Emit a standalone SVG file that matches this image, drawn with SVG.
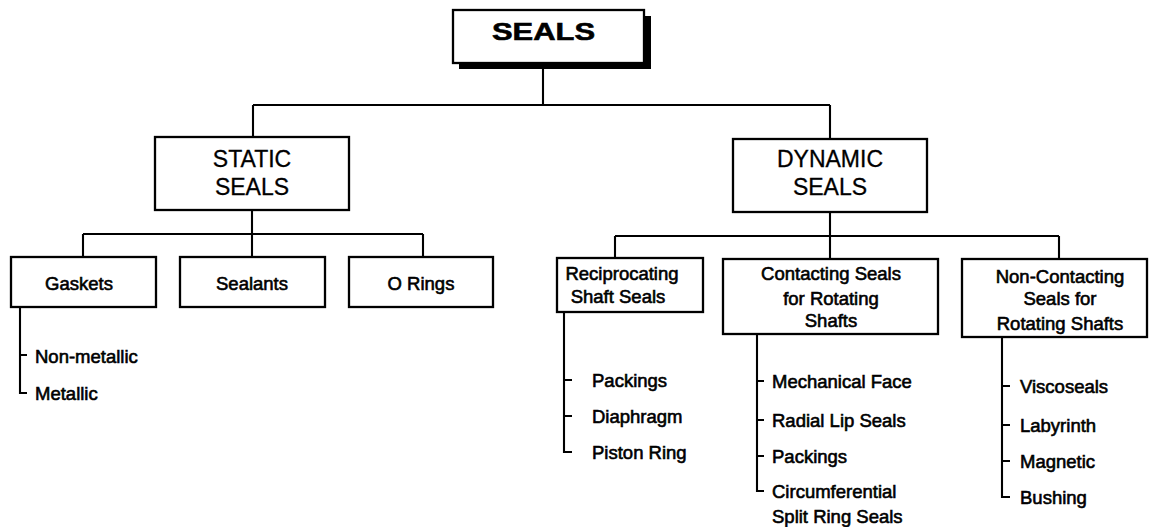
<svg xmlns="http://www.w3.org/2000/svg" width="1151" height="527" viewBox="0 0 1151 527">
<style>
.box{fill:#fff;stroke:#000;stroke-width:2.3}
.ln{fill:none;stroke:#000;stroke-width:2.1}
text{font-family:"Liberation Sans",Arial,Helvetica,sans-serif;fill:#000}
.big{font-size:23px;stroke:#000;stroke-width:0.3}
.lbl{font-size:18.5px;stroke:#000;stroke-width:0.6}
.it{font-size:18.5px;stroke:#000;stroke-width:0.6}
.mid{text-anchor:middle}
</style>
<rect width="1151" height="527" fill="#fff"/>
<g id="connectors">
<path class="ln" d="M543 68V105M253 105H830M253 105V137M830 105V139"/>
<path class="ln" d="M252 210V234M83 234H423M83 234V257M252 234V257M423 234V257"/>
<path class="ln" d="M830 212V236M615 236H1059M615 236V258M830 236V259M1059 236V259"/>
<path class="ln" d="M20 307V393H27M20 355H27"/>
<path class="ln" d="M564 312V452H572M564 380H572M564 416H572"/>
<path class="ln" d="M757 334V491H764M757 381H764M757 420H764M757 456H764"/>
<path class="ln" d="M1002 337V497H1010M1002 386H1010M1002 425H1010M1002 461H1010"/>
</g>
<g id="seals">
<rect x="459" y="16" width="192" height="53" fill="#000"/>
<rect class="box" x="453" y="10" width="191" height="53"/>
<text x="543.5" y="40" font-size="24" font-weight="bold" stroke="#000" stroke-width="0.6" class="mid" textLength="103" lengthAdjust="spacingAndGlyphs">SEALS</text>
</g>
<g id="static">
<rect class="box" x="155" y="137" width="194" height="73"/>
<text class="big mid" x="252" y="167">STATIC</text>
<text class="big mid" x="252" y="195">SEALS</text>
</g>
<g id="dynamic">
<rect class="box" x="733" y="139" width="194" height="73"/>
<text class="big mid" x="830" y="167">DYNAMIC</text>
<text class="big mid" x="830" y="195">SEALS</text>
</g>
<g id="gaskets">
<rect class="box" x="11" y="257" width="145" height="50"/>
<text class="lbl mid" x="79" y="290">Gaskets</text>
</g>
<g id="sealants">
<rect class="box" x="180" y="257" width="145" height="50"/>
<text class="lbl mid" x="252" y="290">Sealants</text>
</g>
<g id="orings">
<rect class="box" x="349" y="257" width="144" height="50"/>
<text class="lbl mid" x="421" y="290">O Rings</text>
</g>
<g id="gasket-items">
<text class="it" x="35" y="363">Non-metallic</text>
<text class="it" x="35" y="400">Metallic</text>
</g>
<g id="reciprocating">
<rect class="box" x="557" y="258" width="146" height="54"/>
<text class="lbl mid" x="622" y="280">Reciprocating</text>
<text class="lbl mid" x="618" y="303">Shaft Seals</text>
</g>
<g id="reciprocating-items">
<text class="it" x="592" y="387">Packings</text>
<text class="it" x="592" y="423">Diaphragm</text>
<text class="it" x="592" y="459">Piston Ring</text>
</g>
<g id="contacting">
<rect class="box" x="723" y="259" width="215" height="75"/>
<text class="lbl mid" x="831" y="280">Contacting Seals</text>
<text class="lbl mid" x="831" y="305">for Rotating</text>
<text class="lbl mid" x="831" y="327">Shafts</text>
</g>
<g id="contacting-items">
<text class="it" x="772" y="388">Mechanical Face</text>
<text class="it" x="772" y="427">Radial Lip Seals</text>
<text class="it" x="772" y="463">Packings</text>
<text class="it" x="772" y="498">Circumferential</text>
<text class="it" x="772" y="523">Split Ring Seals</text>
</g>
<g id="noncontacting">
<rect class="box" x="962" y="259" width="185" height="78"/>
<text class="lbl mid" x="1060" y="283">Non-Contacting</text>
<text class="lbl mid" x="1060" y="305">Seals for</text>
<text class="lbl mid" x="1060" y="330">Rotating Shafts</text>
</g>
<g id="noncontacting-items">
<text class="it" x="1020" y="393">Viscoseals</text>
<text class="it" x="1020" y="432">Labyrinth</text>
<text class="it" x="1020" y="468">Magnetic</text>
<text class="it" x="1020" y="504">Bushing</text>
</g>
</svg>
